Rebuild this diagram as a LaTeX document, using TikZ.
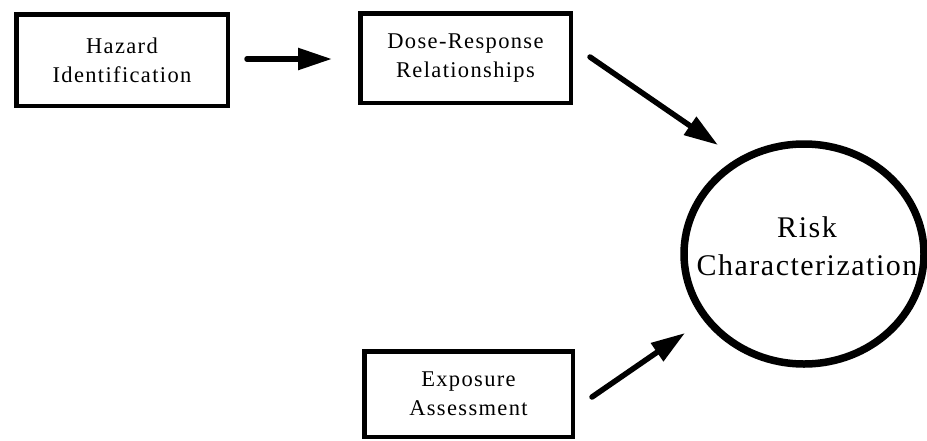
\documentclass[tikz,border=0pt]{standalone}
\usepackage{fontspec}
\setmainfont{Liberation Serif}
\newfontfamily\boxfont{Liberation Serif}[LetterSpace=6]
\newfontfamily\circfont{Liberation Serif}[LetterSpace=5]
\usetikzlibrary{arrows.meta,shapes.geometric}
\begin{document}
\begin{tikzpicture}[x=1pt,y=-1pt,
  box/.style={draw,line width=4.5pt,inner sep=0pt,align=center,font=\boxfont\fontsize{22.5}{29}\selectfont},
  conn/.style={line width=5.5pt,line cap=round,-{Triangle[length=34pt,width=21pt]}}]
\useasboundingbox (0,0) rectangle (927,440);
\node[box,minimum width=211.5pt,minimum height=91.5pt] (haz) at (122,60) {Hazard\\Identification};
\node[box,minimum width=210.5pt,minimum height=89.5pt] (dose) at (465.5,58) {Dose-Response\\Relationships};
\node[box,minimum width=208.5pt,minimum height=85.5pt] (exp) at (468.5,394) {Exposure\\Assessment};
\node[draw,ellipse,line width=7.5pt,minimum width=240pt,minimum height=220pt,inner sep=0pt] (risk) at (804,254) {};
\node[align=center,inner sep=0pt,font=\circfont\fontsize{30}{38}\selectfont] (risklbl) at (807,246) {Risk\\Characterization};
\coordinate (a1s) at (247,59);
\coordinate (a1e) at (332,59);
\coordinate (a2s) at (590,57);
\coordinate (a2e) at (718,145);
\coordinate (a3s) at (592,397);
\coordinate (a3e) at (685,333);
\draw[conn] (a1s) -- (a1e);
\draw[conn] (a2s) -- (a2e);
\draw[conn] (a3s) -- (a3e);
\end{tikzpicture}
\end{document}
